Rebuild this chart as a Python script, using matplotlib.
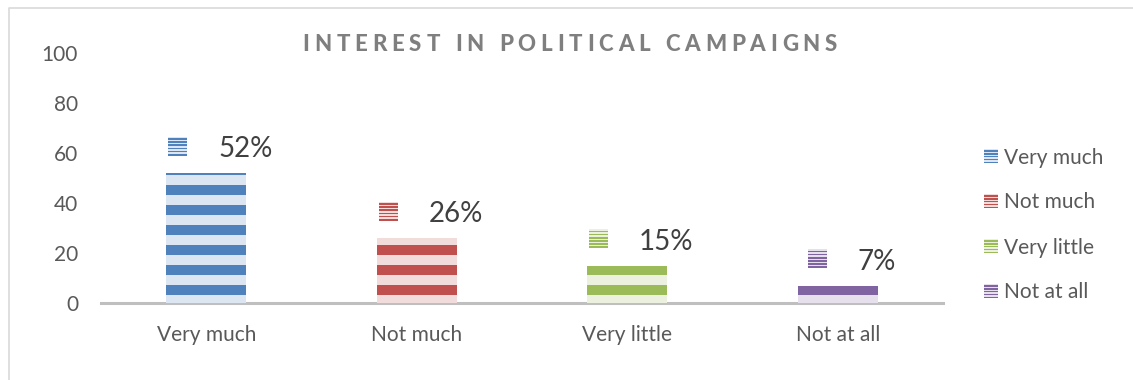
import matplotlib
matplotlib.use('Agg')
import matplotlib.pyplot as plt
from matplotlib.patches import Rectangle
from matplotlib.lines import Line2D
from matplotlib.transforms import IdentityTransform, ScaledTranslation

# data
categories = ['Very much', 'Not much', 'Very little', 'Not at all']
values = [52, 26, 15, 7]
value_labels = ['52%', '26%', '15%', '7%']
y_ticks = [0, 20, 40, 60, 80, 100]
title = 'INTEREST IN POLITICAL CAMPAIGNS'

dark = ['#4F81BD', '#C0504D', '#9BBB59', '#8064A2']
light = ['#DCE6F2', '#F2DCDB', '#EBF1DE', '#E6E0EC']

plt.rcParams['font.family'] = ['Lato', 'DejaVu Sans']

W, H = 1133, 380
fig = plt.figure(figsize=(W / 100, H / 100), dpi=100)
ax = fig.add_axes([101 / W, 1 - 303 / H, 842 / W, 250 / H])

# striped bars: light background, dark bands every 8 units
bw = 0.38
for i, v in enumerate(values):
    ax.bar(i, v, width=bw, color=light[i], linewidth=0, zorder=2)
    b = 3.2
    while b < v:
        ax.bar(i, min(4, v - b), bottom=b, width=bw, color=dark[i], linewidth=0, zorder=3)
        b += 8

ax.set_xlim(-0.5, 3.5)
ax.set_ylim(0, 100)
ax.set_yticks(y_ticks)
ax.set_xticks(range(len(categories)))
ax.set_xticklabels(categories)
for s in ['top', 'right', 'left']:
    ax.spines[s].set_visible(False)
ax.spines['bottom'].set_color('#BFBFBF')
ax.spines['bottom'].set_linewidth(2.2)
ax.spines['bottom'].set_zorder(1)
ax.tick_params(axis='both', length=0, labelsize=15, labelcolor='#595959')
ax.tick_params(axis='y', pad=16.5)
ax.tick_params(axis='x', pad=16)


def key_icon(trans, x0, y0, size, dk, lt):
    fig.add_artist(Rectangle((x0, y0), size, size, transform=trans,
                             facecolor=lt, linewidth=0))
    n = int(round(size / 3))
    step = size / n
    for k in range(n):
        fig.add_artist(Rectangle((x0, y0 + k * step), size, step * 0.5,
                                 transform=trans, facecolor=dk, linewidth=0))


renderer = fig.canvas.get_renderer()

# data labels: small key + percentage, centred a bit right of the bar
for i, v in enumerate(values):
    t = ax.annotate(value_labels[i], xy=(i, v), xytext=(0, 15.7 * 0.72),
                    textcoords='offset points', ha='left', va='baseline',
                    fontsize=20, color='#404040', annotation_clip=False)
    tw = t.get_window_extent(renderer).width
    g = 19 + 31 + tw
    left = 14 - g / 2
    t.xyann = ((left + 50) * 0.72, 15.7 * 0.72)
    key_icon(ScaledTranslation(i, v, ax.transData), left, 17.5, 19, dark[i], light[i])

# legend on the right
pix = IdentityTransform()
for k, name in enumerate(categories):
    yc = 156 + 45 * k
    key_icon(pix, 984, H - yc - 7, 14, dark[k], light[k])
    fig.text(1004 / W, 1 - (yc + 7.5) / H, name, fontsize=15, color='#595959',
             ha='left', va='baseline')

# letter-spaced title
fs = 16
chars = []
widths = []
for ch in title:
    t = fig.text(0, 1 - 51 / H, ch, fontsize=fs, fontweight='black',
                 color='#7F7F7F', ha='left', va='baseline')
    chars.append(t)
    if ch == ' ':
        widths.append(0.25 * fs * 100 / 72)
    else:
        widths.append(t.get_window_extent(renderer).width)
track = (837 - 302.7 - sum(widths)) / (len(title) - 1)
x = 302.7
for t, w in zip(chars, widths):
    t.set_x(x / W)
    x += w + track

# outer frame (top and left edges visible)
fig.add_artist(Line2D([8.5 / W, 8.5 / W, 1], [0, 1 - 7.5 / H, 1 - 7.5 / H],
                      color='#D9D9D9', linewidth=1.2))

fig.savefig('out.png', dpi=100)
